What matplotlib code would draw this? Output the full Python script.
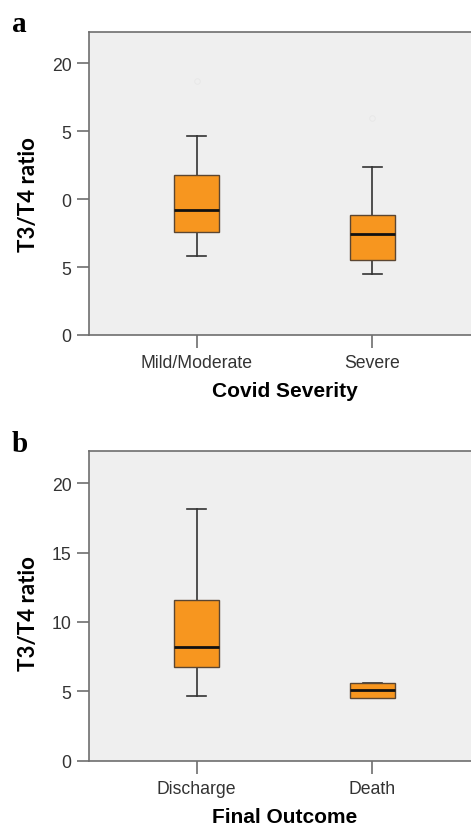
import matplotlib.pyplot as plt

# data
severity_groups = ["Mild/Moderate", "Severe"]
severity_whislo = [5.79, 4.49]
severity_q1 = [7.55, 5.54]
severity_med = [9.21, 7.43]
severity_q3 = [11.79, 8.82]
severity_whishi = [14.63, 12.33]
severity_fliers = [[18.7], [16.0]]

outcome_groups = ["Discharge", "Death"]
outcome_whislo = [4.68, 4.53]
outcome_q1 = [6.76, 4.53]
outcome_med = [8.16, 5.09]
outcome_q3 = [11.56, 5.59]
outcome_whishi = [18.16, 5.59]
outcome_fliers = [[], []]

yticks = [0, 5, 10, 15, 20]
top_ytick_labels = ["0", "5", "0", "5", "20"]
bottom_ytick_labels = ["0", "5", "10", "15", "20"]

plt.rcParams["font.family"] = ["Liberation Sans", "DejaVu Sans"]

box_color = "#f7961f"
edge_color = "#5b4632"
spine_color = "#6e6e6e"
bg_color = "#efefef"


def make_stats(groups, lo, q1, med, q3, hi, fliers):
    stats = []
    for i, g in enumerate(groups):
        stats.append(dict(label=g, whislo=lo[i], q1=q1[i], med=med[i],
                          q3=q3[i], whishi=hi[i], fliers=fliers[i]))
    return stats


def draw_panel(ax, stats, ytick_labels, xlabel):
    ax.set_facecolor(bg_color)
    ax.bxp(stats, positions=range(len(stats)), widths=0.256,
           patch_artist=True, showfliers=True,
           boxprops=dict(facecolor=box_color, edgecolor=edge_color,
                         linewidth=1.0, zorder=3),
           medianprops=dict(color="#111111", linewidth=2.0, zorder=4),
           whiskerprops=dict(color="#333333", linewidth=1.2, zorder=2),
           capprops=dict(color="#333333", linewidth=1.2, zorder=2),
           capwidths=0.11,
           flierprops=dict(marker="o", markersize=4, markerfacecolor="none",
                           markeredgecolor="#e8e8e8", markeredgewidth=0.7))
    ax.set_xlim(-0.612, 1.612)
    ax.set_ylim(0, 22.3)
    ax.set_yticks(yticks)
    ax.set_yticklabels(ytick_labels)
    ax.set_xticks(range(len(stats)))
    ax.set_xticklabels([s["label"] for s in stats])
    for side in ["left", "bottom", "top", "right"]:
        ax.spines[side].set_color(spine_color)
        ax.spines[side].set_linewidth(1.2)
    ax.tick_params(axis="both", colors=spine_color, width=1.2, length=9,
                   labelsize=12.7, labelcolor="#333333")
    ax.tick_params(axis="x", pad=5)
    ax.set_xlabel(xlabel, fontsize=15, fontweight="bold", labelpad=7)


W, H = 471, 828
fig = plt.figure(figsize=(W / 100, H / 100), dpi=100)

ax1 = fig.add_axes([89 / W, 1 - 336 / H, 391 / W, (336 - 33) / H])
draw_panel(ax1, make_stats(severity_groups, severity_whislo, severity_q1,
                           severity_med, severity_q3, severity_whishi,
                           severity_fliers),
           top_ytick_labels, "Covid Severity")

ax2 = fig.add_axes([89 / W, 1 - 761.7 / H, 391 / W, (761.7 - 452.3) / H])
draw_panel(ax2, make_stats(outcome_groups, outcome_whislo, outcome_q1,
                           outcome_med, outcome_q3, outcome_whishi,
                           outcome_fliers),
           bottom_ytick_labels, "Final Outcome")

for yc in [195, 614]:
    fig.text(28 / W, 1 - yc / H, "T3/T4 ratio", family=["Lato", "DejaVu Sans"],
             fontweight="bold", fontsize=16, rotation=90,
             ha="center", va="center")

fig.text(12 / W, 1 - 25 / H, "a", family="Liberation Serif", fontweight="bold",
         fontsize=21, va="center", ha="left")
fig.text(12 / W, 1 - 444 / H, "b", family="Liberation Serif", fontweight="bold",
         fontsize=21, va="center", ha="left")

fig.savefig("out.png", dpi=100)
